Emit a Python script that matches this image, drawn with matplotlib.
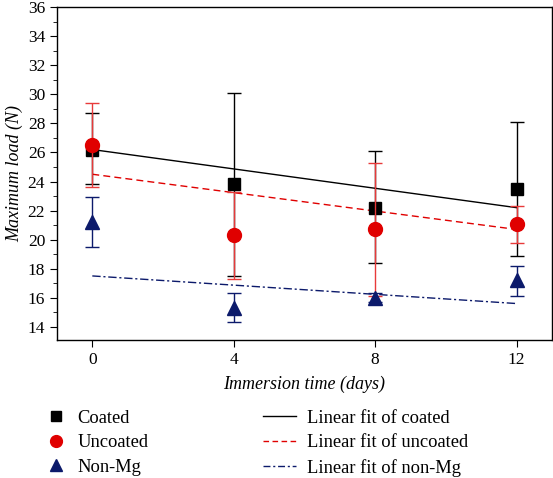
import matplotlib
matplotlib.use("Agg")
import matplotlib.pyplot as plt
from matplotlib.lines import Line2D
from matplotlib.ticker import MultipleLocator
import numpy as np

plt.rcParams['font.family'] = ['Liberation Serif', 'DejaVu Serif']

days = [0, 4, 8, 12]

coated = [26.2, 23.8, 22.2, 23.5]
coated_hi = [28.7, 30.1, 26.1, 28.1]
coated_lo = [23.8, 17.5, 18.4, 18.9]

uncoated = [26.5, 20.3, 20.7, 21.1]
uncoated_hi = [29.4, 23.3, 25.3, 22.3]
uncoated_lo = [23.6, 17.3, 16.1, 19.8]

nonmg = [21.2, 15.3, 16.0, 17.2]
nonmg_hi = [22.9, 16.3, 16.3, 18.2]
nonmg_lo = [19.5, 14.3, 15.7, 16.1]

fit_x = [0, 12]
fit_coated = [26.2, 22.2]
fit_uncoated = [24.5, 20.7]
fit_nonmg = [17.5, 15.6]

black = '#000000'
red = '#e00000'
red_err = '#e83a3a'
navy = '#0c1a6b'

fig = plt.figure(figsize=(5.53, 4.78), dpi=100)
ax = fig.add_axes([0.103, 0.289, 0.895, 0.696])

def err(vals, hi, lo):
    v = np.array(vals); return [v - np.array(lo), np.array(hi) - v]

ax.plot(fit_x, fit_coated, color=black, lw=1.0, ls='-', zorder=2)
ax.plot(fit_x, fit_uncoated, color=red, lw=1.0, ls=(0, (5, 3)), zorder=2)
ax.plot(fit_x, fit_nonmg, color=navy, lw=1.0, ls=(0, (6, 2, 1.5, 2)), zorder=2)

ax.errorbar(days, coated, yerr=err(coated, coated_hi, coated_lo), fmt='s', color=black,
            ecolor=black, elinewidth=1.0, capsize=5, capthick=1.0, markersize=8, zorder=3)
ax.errorbar(days, uncoated, yerr=err(uncoated, uncoated_hi, uncoated_lo), fmt='o', color=red,
            ecolor=red_err, elinewidth=1.0, capsize=5, capthick=1.0, markersize=10, zorder=4)
ax.errorbar(days, nonmg, yerr=err(nonmg, nonmg_hi, nonmg_lo), fmt='^', color=navy,
            ecolor=navy, elinewidth=1.0, capsize=5, capthick=1.0, markersize=10, zorder=5)

ax.set_xlim(-1, 13)
ax.set_ylim(13.1, 36)
ax.set_xticks(days)
ax.yaxis.set_major_locator(MultipleLocator(2))
ax.yaxis.set_minor_locator(MultipleLocator(1))
ax.tick_params(axis='both', which='both', direction='out', labelsize=12.5, top=False, right=False)
ax.tick_params(axis='both', which='major', length=5)
ax.tick_params(axis='y', which='minor', length=3)
for s in ax.spines.values():
    s.set_linewidth(1.0)

ax.set_xlabel('Immersion time (days)', fontsize=13, fontstyle='italic', labelpad=6)
ax.set_ylabel('Maximum load (N)', fontsize=13, fontstyle='italic', labelpad=3)

h1 = [Line2D([], [], ls='none', marker='s', color=black, markersize=7),
      Line2D([], [], ls='none', marker='o', color=red, markersize=8.5),
      Line2D([], [], ls='none', marker='^', color=navy, markersize=8.5)]
l1 = ['Coated', 'Uncoated', 'Non-Mg']
h2 = [Line2D([], [], color=black, lw=1.0),
      Line2D([], [], color=red, lw=1.0, ls=(0, (4, 2.5))),
      Line2D([], [], color=navy, lw=1.0, ls=(0, (5, 2, 1.5, 2)))]
l2 = ['Linear fit of coated', 'Linear fit of uncoated', 'Linear fit of non-Mg']

fig.legend(h1, l1, loc='upper left', bbox_to_anchor=(0.072, 0.158), frameon=False,
           fontsize=13.3, handlelength=1.0, handletextpad=0.65, labelspacing=0.4, borderaxespad=0)
fig.legend(h2, l2, loc='upper left', bbox_to_anchor=(0.462, 0.158), frameon=False,
           fontsize=13.3, handlelength=1.8, handletextpad=0.6, labelspacing=0.4, borderaxespad=0)

fig.savefig('out.png', dpi=100)
